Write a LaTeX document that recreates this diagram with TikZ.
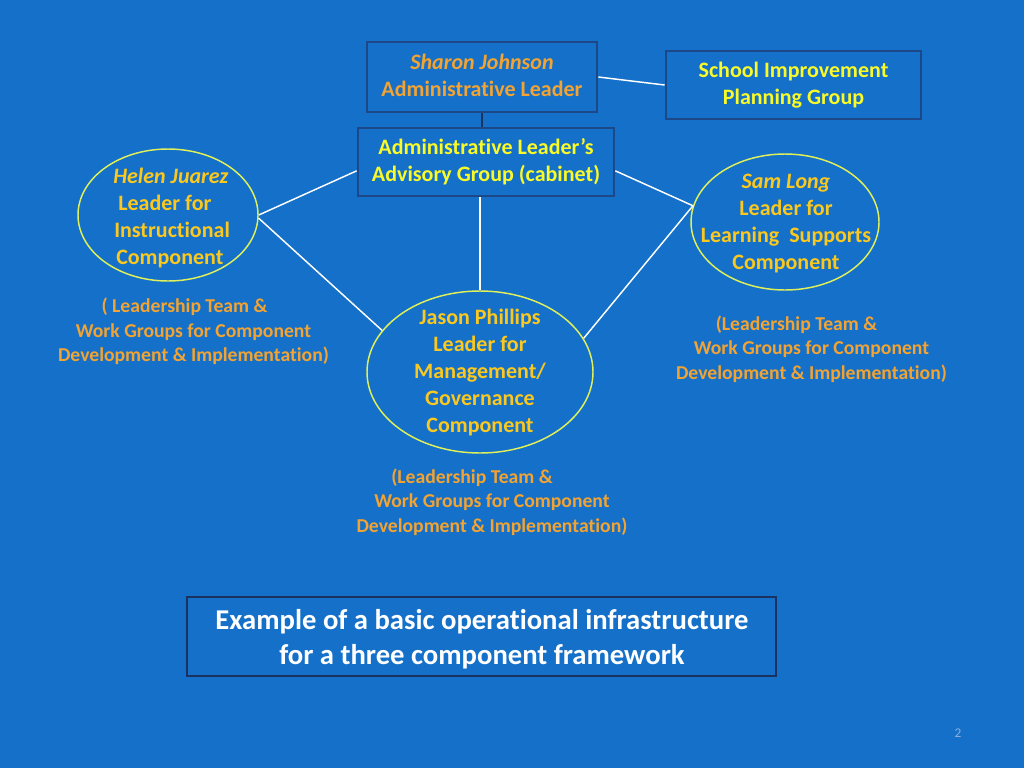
\documentclass[tikz,border=0pt]{standalone}
\usepackage{fontspec}
\setmainfont{Carlito}[Ligatures={NoCommon}]
\usetikzlibrary{shapes.geometric,calc}
\definecolor{bg}{RGB}{20,112,200}
\definecolor{boxedge}{RGB}{28,72,135}
\definecolor{darkedge}{RGB}{25,50,95}
\definecolor{orng}{RGB}{242,163,50}
\definecolor{gold}{RGB}{250,200,30}
\definecolor{yel}{RGB}{250,250,40}
\definecolor{ellc}{RGB}{225,240,90}
\definecolor{pnum}{RGB}{140,175,225}
\newcommand\mainsz{\fontsize{16.5}{20.25}\selectfont\bfseries}
\newcommand\smallsz{\fontsize{14.75}{18.2}\selectfont\bfseries}
\newcommand\bigsz{\fontsize{21.5}{26.25}\selectfont\bfseries}
\tikzset{
  box/.style={draw=boxedge, line width=2pt, fill=bg, align=center, font=\mainsz, inner sep=0pt},
  ell/.style={draw=ellc, line width=1.1pt, ellipse, inner sep=0pt},
  ltext/.style={font=\mainsz, text=gold, inner sep=0pt},
  ptext/.style={font=\smallsz, text=orng, align=center, inner sep=0pt},
  wline/.style={draw=white, line width=1.1pt},
}
\begin{document}
\begin{tikzpicture}[x=0.75pt,y=-0.75pt]
\fill[bg] (0,0) rectangle (1024,768);
\useasboundingbox (0,0) rectangle (1024,768);

% boxes
\node[box, minimum width=172.5pt, minimum height=52.5pt] (sharon) at (482,77) {};
\node[font=\mainsz, text=orng, align=center, inner sep=0pt] (sharont) at (482,75) {\textit{Sharon Johnson}\\Administrative Leader};
\node[box, minimum width=191.25pt, minimum height=51pt, text=yel] (sip) at (793.5,85) {School Improvement\\Planning Group};
\node[box, minimum width=192pt, minimum height=51pt, text=yel] (adv) at (486,162) {Administrative Leader’s\\Advisory Group (cabinet)};

% ellipses
\node[ell, minimum width=135pt, minimum height=99pt] (helen) at (168,215) {};
\node[ell, minimum width=141pt, minimum height=102pt] (sam) at (785,222) {};
\node[ell, minimum width=169.5pt, minimum height=121.5pt] (jason) at (480,372) {};

% ellipse texts
\node[ltext, align=left, anchor=west] (helent) at (113,218) {\textit{Helen Juarez}\\\hspace*{3.75pt}Leader for\\\hspace*{0.75pt}Instructional\\\hspace*{2.25pt}Component};
\node[ltext, align=center] (samt) at (786,223.5) {\textit{Sam Long}\\Leader for\\Learning\ \ Supports\\Component};
\node[ltext, align=center] (jasont) at (480,373) {Jason Phillips\\Leader for\\Management/\\Governance\\Component};

% parenthetical texts
\node[ptext] (helenp) at (193.5,331.5) {( Leadership Team \&\hspace*{13.5pt}\\Work Groups for Component\\Development \& Implementation)};
\node[ptext] (samp) at (811.5,349) {(Leadership Team \&\hspace*{22.5pt}\\Work Groups for Component\hspace*{6pt}\\Development \& Implementation)};
\node[ptext] (jasonp) at (492,502) {(Leadership Team \&\hspace*{30pt}\\Work Groups for Component\hspace*{6.75pt}\\Development \& Implementation)};

% bottom caption box
\node[draw=darkedge, line width=1.1pt, fill=bg, inner sep=0pt,
      minimum width=441.75pt, minimum height=59.25pt] (caption) at (481.5,636.5) {};
\node[font=\bigsz, text=white, align=center, inner sep=0pt] (captiont) at (482,639.5)
      {Example of a basic operational infrastructure\\for a three component framework};

% page number
\node[font=\fontsize{10}{12}\selectfont, text=pnum, inner sep=0pt] (pnum) at (958,733) {2};

% connectors
\draw[darkedge, line width=1.1pt] (sharon.south) -- (sharon.south |- adv.north);
\draw[wline] (sharon.east) -- (sip.west);
\draw[wline] ($(adv.west)!0.25!(adv.south west)$) -- (helen.east);
\draw[wline] (helen.-2) -- (jason.157);
\draw[wline] (adv.south -| jason.north) -- (jason.north);
\draw[wline] ($(adv.east)!0.25!(adv.south east)$) -- (sam.170);
\draw[wline] (sam.170) -- (jason.18);
\end{tikzpicture}
\end{document}
